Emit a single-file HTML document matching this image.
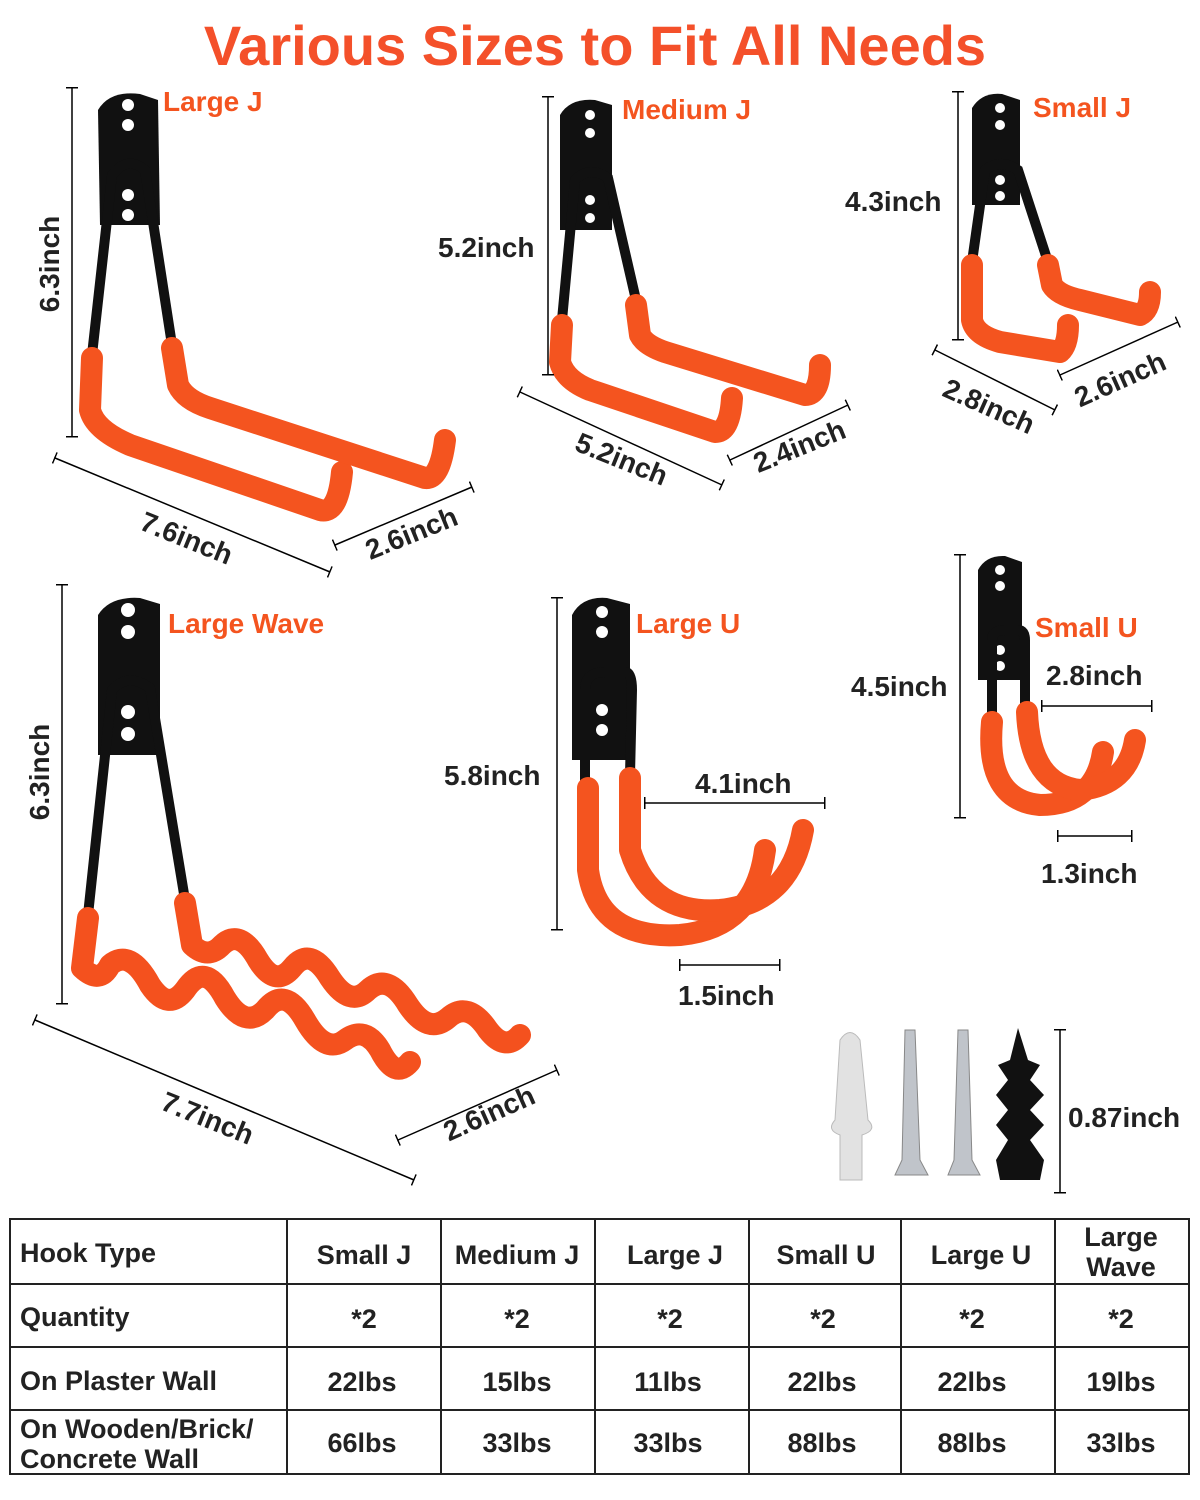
<!DOCTYPE html>
<html><head><meta charset="utf-8"><style>
html,body{margin:0;padding:0;background:#fff;}
svg{display:block}
text{font-family:"Liberation Sans",sans-serif;font-weight:bold}
</style></head><body>
<svg width="1200" height="1500" viewBox="0 0 1200 1500" xmlns="http://www.w3.org/2000/svg">
<defs>
<marker id="t" viewBox="0 0 2 12" refX="1" refY="6" markerWidth="2" markerHeight="12" markerUnits="userSpaceOnUse" orient="auto"><rect x="0" y="0" width="1.5" height="12" fill="#000"/></marker>
</defs>
<text x="595" y="65" text-anchor="middle" font-size="56" fill="#f4502a">Various Sizes to Fit All Needs</text>

<g fill="#111">
<path d="M98,110 Q110,90 140,94 L158,100 L160,225 L100,225 Z"/>
<path d="M560,115 Q570,98 595,100 L612,105 L612,230 L560,230 Z"/>
<path d="M972,108 Q982,92 1002,94 L1020,100 L1020,205 L972,205 Z"/>
<path d="M98,615 Q110,596 140,598 L160,604 L160,755 L98,755 Z"/>
<path d="M572,615 Q582,596 607,598 L630,604 L630,760 L572,760 Z"/>
<path d="M978,570 Q986,555 1005,556 L1022,562 L1022,680 L978,680 Z"/>
</g>
<g fill="#fff">
<circle cx="128" cy="105" r="6"/><circle cx="128" cy="125" r="6"/><circle cx="128" cy="195" r="6"/><circle cx="128" cy="215" r="6"/>
<circle cx="590" cy="115" r="5"/><circle cx="590" cy="133" r="5"/><circle cx="590" cy="200" r="5"/><circle cx="590" cy="218" r="5"/>
<circle cx="1000" cy="108" r="5"/><circle cx="1000" cy="125" r="5"/><circle cx="1000" cy="180" r="5"/><circle cx="1000" cy="196" r="5"/>
<circle cx="128" cy="610" r="7"/><circle cx="128" cy="632" r="7"/><circle cx="128" cy="712" r="7"/><circle cx="128" cy="734" r="7"/>
<circle cx="602" cy="612" r="6"/><circle cx="602" cy="632" r="6"/><circle cx="602" cy="710" r="6"/><circle cx="602" cy="730" r="6"/>
<circle cx="1000" cy="570" r="5"/><circle cx="1000" cy="586" r="5"/><circle cx="1000" cy="650" r="5"/><circle cx="1000" cy="666" r="5"/>
</g>
<g stroke="#111" stroke-width="10" fill="none" stroke-linecap="round">
<path d="M92,355 L112,175 Q128,155 145,170 L172,345"/>
<path d="M562,320 L575,180 Q590,165 608,178 L636,300"/>
<path d="M972,262 L985,170 Q1000,158 1018,170 L1048,262"/>
<path d="M88,915 L112,690 Q128,672 150,688 L185,900"/>
<path d="M585,785 L585,690 Q585,672 605,672 L625,672 Q632,672 632,690 L630,775"/>
<path d="M992,720 L992,640 Q992,630 1005,630 L1018,630 Q1025,630 1025,640 L1025,710"/>
</g>
<g stroke="#f4541f" stroke-width="22" fill="none" stroke-linecap="round" stroke-linejoin="round">
<path d="M92,358 L90,410 Q95,430 130,445 L320,510 Q338,515 342,472"/>
<path d="M172,348 L178,385 Q185,400 210,408 L425,478 Q440,480 445,440"/>
<path d="M562,325 L560,362 Q565,380 590,390 L715,432 Q730,432 732,398"/>
<path d="M636,305 L640,335 Q645,345 665,352 L805,395 Q820,395 820,365"/>
<path d="M972,265 L972,320 Q975,335 1000,342 L1060,352 Q1068,345 1068,325"/>
<path d="M1048,265 L1052,285 Q1058,295 1080,300 L1140,315 Q1150,310 1150,292"/>
<path stroke="#f4511e" d="M88,918 L82,968 Q100,985 110,965 Q130,948 150,985 Q168,1012 185,990 Q205,960 225,998 Q245,1030 265,1010 Q285,985 305,1020 Q325,1055 345,1040 Q365,1025 380,1050 Q395,1080 410,1062"/>
<path stroke="#f4511e" d="M185,903 L192,945 Q208,960 222,945 Q240,928 258,960 Q275,988 292,968 Q310,945 330,978 Q350,1008 368,990 Q388,972 408,1005 Q428,1035 448,1018 Q468,1000 488,1030 Q505,1052 520,1035"/>
<path d="M588,788 L588,870 Q598,940 680,935 Q755,928 765,850"/>
<path d="M630,778 L630,850 Q650,915 720,910 Q790,903 803,830"/>
<path d="M992,722 Q985,800 1040,805 Q1095,805 1103,752"/>
<path d="M1027,712 Q1030,785 1080,790 Q1128,785 1135,740"/>
</g>

<g stroke="#000" stroke-width="1.5" marker-start="url(#t)" marker-end="url(#t)">
<line x1="72" y1="88" x2="72" y2="437"/>
<line x1="55" y1="458" x2="330" y2="572"/>
<line x1="335" y1="545" x2="472" y2="487"/>
<line x1="548" y1="97" x2="548" y2="375"/>
<line x1="520" y1="392" x2="722" y2="485"/>
<line x1="730" y1="460" x2="848" y2="405"/>
<line x1="958" y1="92" x2="958" y2="340"/>
<line x1="935" y1="350" x2="1055" y2="410"/>
<line x1="1060" y1="375" x2="1178" y2="322"/>
<line x1="62" y1="585" x2="62" y2="1004"/>
<line x1="35" y1="1020" x2="414" y2="1180"/>
<line x1="398" y1="1140" x2="557" y2="1070"/>
<line x1="557" y1="598" x2="557" y2="930"/>
<line x1="645" y1="803" x2="825" y2="803"/>
<line x1="680" y1="965" x2="780" y2="965"/>
<line x1="960" y1="555" x2="960" y2="818"/>
<line x1="1042" y1="706" x2="1152" y2="706"/>
<line x1="1058" y1="836" x2="1132" y2="836"/>
<line x1="1060" y1="1030" x2="1060" y2="1193"/>
</g>

<g>
<path d="M840,1040 Q850,1025 860,1040 L868,1120 Q878,1130 862,1135 L862,1180 L840,1180 L840,1135 Q826,1130 835,1120 Z" fill="#e2e2e2" stroke="#bbb"/>
<path d="M905,1030 L915,1030 L920,1160 L928,1175 L895,1175 L902,1160 Z" fill="#c0c4ca" stroke="#888"/>
<path d="M958,1030 L968,1030 L972,1160 L980,1175 L948,1175 L954,1160 Z" fill="#c0c4ca" stroke="#888"/>
<path d="M1018,1028 L1028,1060 L1040,1065 L1030,1080 L1044,1095 L1030,1110 L1044,1125 L1030,1140 L1044,1160 L1040,1180 L1000,1180 L996,1160 L1008,1140 L996,1125 L1008,1110 L996,1095 L1008,1080 L998,1065 L1010,1060 Z" fill="#111"/>
</g>

<g font-size="28" fill="#f4541f">
<text x="163" y="111">Large J</text>
<text x="622" y="119">Medium J</text>
<text x="1033" y="117">Small J</text>
<text x="168" y="633">Large Wave</text>
<text x="636" y="633">Large U</text>
<text x="1035" y="637">Small U</text>
</g>
<g font-size="28" fill="#222">
<text transform="translate(59,264) rotate(-90)" text-anchor="middle">6.3inch</text>
<text transform="translate(183,547) rotate(22)" text-anchor="middle">7.6inch</text>
<text transform="translate(415,542) rotate(-22)" text-anchor="middle">2.6inch</text>
<text x="438" y="257">5.2inch</text>
<text transform="translate(618,468) rotate(22)" text-anchor="middle">5.2inch</text>
<text transform="translate(803,455) rotate(-22)" text-anchor="middle">2.4inch</text>
<text x="845" y="211">4.3inch</text>
<text transform="translate(985,415) rotate(24)" text-anchor="middle">2.8inch</text>
<text transform="translate(1124,388) rotate(-24)" text-anchor="middle">2.6inch</text>
<text transform="translate(49,772) rotate(-90)" text-anchor="middle">6.3inch</text>
<text transform="translate(204,1127) rotate(22)" text-anchor="middle">7.7inch</text>
<text transform="translate(493,1122) rotate(-24)" text-anchor="middle">2.6inch</text>
<text x="444" y="785">5.8inch</text>
<text x="695" y="793">4.1inch</text>
<text x="678" y="1005">1.5inch</text>
<text x="851" y="696">4.5inch</text>
<text x="1046" y="685">2.8inch</text>
<text x="1041" y="883">1.3inch</text>
<text x="1068" y="1127">0.87inch</text>
</g>

<g stroke="#222" stroke-width="2" fill="none">
<rect x="10" y="1219" width="1179" height="255"/>
<line x1="10" y1="1284" x2="1189" y2="1284"/>
<line x1="10" y1="1347" x2="1189" y2="1347"/>
<line x1="10" y1="1410" x2="1189" y2="1410"/>
<line x1="287" y1="1219" x2="287" y2="1474"/>
<line x1="441" y1="1219" x2="441" y2="1474"/>
<line x1="595" y1="1219" x2="595" y2="1474"/>
<line x1="749" y1="1219" x2="749" y2="1474"/>
<line x1="901" y1="1219" x2="901" y2="1474"/>
<line x1="1055" y1="1219" x2="1055" y2="1474"/>
</g>
<g font-size="27" fill="#222">
<text x="20" y="1262">Hook Type</text>
<text x="20" y="1326">Quantity</text>
<text x="20" y="1390">On Plaster Wall</text>
<text x="20" y="1438">On Wooden/Brick/</text>
<text x="20" y="1468">Concrete Wall</text>
</g>
<g font-size="27" fill="#222" text-anchor="middle">
<text x="364" y="1264">Small J</text><text x="517" y="1264">Medium J</text><text x="675" y="1264">Large J</text><text x="826" y="1264">Small U</text><text x="981" y="1264">Large U</text>
<text x="1121" y="1246">Large</text><text x="1121" y="1276">Wave</text>
<text x="364" y="1328">*2</text><text x="517" y="1328">*2</text><text x="670" y="1328">*2</text><text x="823" y="1328">*2</text><text x="972" y="1328">*2</text><text x="1121" y="1328">*2</text>
<text x="362" y="1391">22lbs</text><text x="517" y="1391">15lbs</text><text x="668" y="1391">11lbs</text><text x="822" y="1391">22lbs</text><text x="972" y="1391">22lbs</text><text x="1121" y="1391">19lbs</text>
<text x="362" y="1452">66lbs</text><text x="517" y="1452">33lbs</text><text x="668" y="1452">33lbs</text><text x="822" y="1452">88lbs</text><text x="972" y="1452">88lbs</text><text x="1121" y="1452">33lbs</text>
</g>
</svg>
</body></html>
